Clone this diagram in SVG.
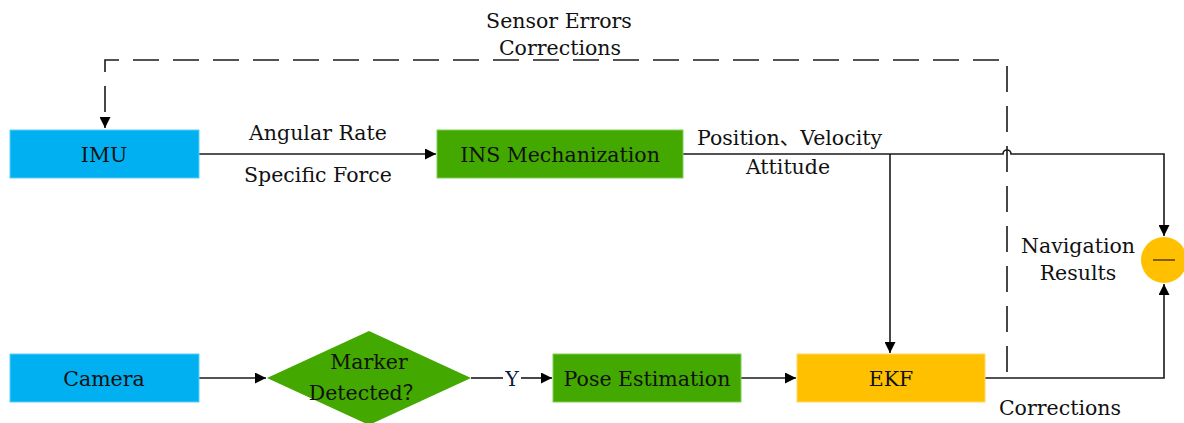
<svg xmlns="http://www.w3.org/2000/svg" width="1184" height="423" viewBox="0 0 1184 423">
<defs>
<style>
text{font-family:"DejaVu Serif","Noto Sans CJK SC",serif;font-size:20.5px;fill:#111;}
.c{text-anchor:middle;}
.ln{fill:none;stroke:#1a1a1a;stroke-width:1.6;}
.dash{fill:none;stroke:#1a1a1a;stroke-width:1.6;stroke-dasharray:26 14;}
.blue{fill:#00B0F0;stroke:#5cd0f8;stroke-width:1;}
.green{fill:#43A800;stroke:#7fcf55;stroke-width:1;}
.orange{fill:#FFC000;stroke:#ffd866;stroke-width:1;}
</style>
<marker id="ah" viewBox="0 0 10 10" refX="10" refY="5" markerWidth="11" markerHeight="11" markerUnits="userSpaceOnUse" orient="auto">
<path d="M0,0 L10,5 L0,10 z" fill="#000"/>
</marker>
</defs>
<rect width="1184" height="423" fill="#fff"/>

<g id="connectors">
<path class="dash" d="M1007,372 V60 H105 V128" marker-end="url(#ah)"/>
<path class="ln" d="M199,154 H436" marker-end="url(#ah)"/>
<path class="ln" d="M683,154 H1003 A4,4 0 0 1 1011,154 H1164 V236" marker-end="url(#ah)"/>
<path class="ln" d="M890,154 V353" marker-end="url(#ah)"/>
<path class="ln" d="M199,378 H266" marker-end="url(#ah)"/>
<path class="ln" d="M471,378 H503"/>
<path class="ln" d="M521,378 H552" marker-end="url(#ah)"/>
<path class="ln" d="M741,378 H796" marker-end="url(#ah)"/>
<path class="ln" d="M985,378 H1164 V284" marker-end="url(#ah)"/>
</g>

<g id="labels">
<text class="c" x="559" y="28">Sensor Errors</text>
<text class="c" x="560" y="55">Corrections</text>
<text class="c" x="318" y="140">Angular Rate</text>
<text class="c" x="318" y="182">Specific Force</text>
<text x="697" y="145">Position、Velocity</text>
<text class="c" x="788" y="174">Attitude</text>
<text class="c" x="512" y="386" style="fill:#0d1b3e">Y</text>
<text class="c" x="1078" y="253">Navigation</text>
<text class="c" x="1078" y="280">Results</text>
<text class="c" x="1060" y="415">Corrections</text>
</g>

<g id="imu">
<rect class="blue" x="10" y="130" width="189" height="48"/>
<text class="c" x="104" y="162">IMU</text>
</g>
<g id="ins">
<rect class="green" x="437" y="130" width="246" height="48"/>
<text class="c" x="560" y="162">INS Mechanization</text>
</g>
<g id="camera">
<rect class="blue" x="10" y="354" width="189" height="48"/>
<text class="c" x="104" y="386">Camera</text>
</g>
<g id="marker">
<polygon class="green" points="267,378 369,331 471,378 369,425" style="stroke:none"/>
<text class="c" x="369" y="369">Marker</text>
<text class="c" x="366" y="400">Detected？</text>
</g>
<g id="pose">
<rect class="green" x="553" y="354" width="188" height="48"/>
<text class="c" x="647" y="386">Pose Estimation</text>
</g>
<g id="ekf">
<rect class="orange" x="797" y="354" width="188" height="48"/>
<text class="c" x="891" y="386">EKF</text>
</g>
<g id="minus">
<circle cx="1164" cy="260" r="23" fill="#FFC000"/>
<line x1="1153" y1="260" x2="1175" y2="260" stroke="#7F6000" stroke-width="2"/>
</g>
</svg>
